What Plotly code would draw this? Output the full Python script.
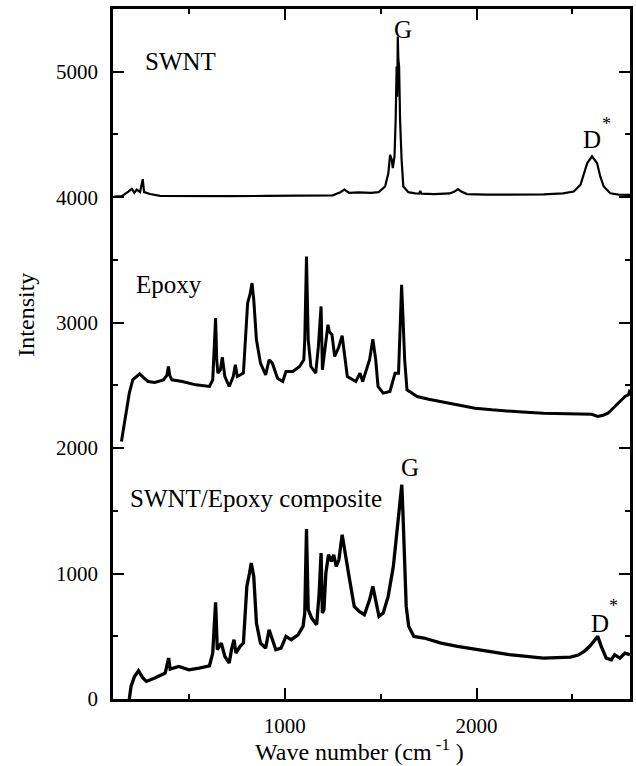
import plotly.graph_objects as go

# ---------------- data ----------------
swnt_x = [110, 150, 184, 202, 215, 228, 245, 259, 266, 297, 350, 500, 700, 900, 1100,
          1250, 1290, 1310, 1335, 1385, 1450, 1489, 1523, 1540, 1549, 1558, 1563, 1572,
          1578, 1583, 1586, 1589, 1592, 1596, 1601, 1604, 1609, 1618, 1644, 1680, 1700,
          1706, 1712, 1780, 1860, 1885, 1903, 1920, 1950, 2050, 2200, 2350, 2450, 2507,
          2542, 2559, 2577, 2602, 2628, 2645, 2663, 2697, 2740, 2800]
swnt_y = [4005, 4008, 4045, 4067, 4035, 4060, 4040, 4144, 4040, 4025, 4010, 4008, 4008, 4010, 4012,
          4015, 4040, 4060, 4035, 4038, 4035, 4040, 4085, 4192, 4338, 4298, 4232, 4325,
          4617, 5042, 4800, 5281, 5100, 5042, 4617, 4400, 4298, 4085, 4040, 4030, 4028,
          4050, 4028, 4025, 4030, 4045, 4065, 4045, 4025, 4020, 4020, 4022, 4030, 4045,
          4099, 4192, 4272, 4325, 4272, 4165, 4085, 4031, 4020, 4018]

epoxy_x = [148, 171, 189, 207, 243, 265, 287, 322, 367, 385, 393, 400, 411, 465, 536, 607, 624,
           639, 645, 651, 664, 674, 687, 710, 731, 742, 752, 784, 806, 820, 829, 838, 852,
           873, 900, 918, 935, 962, 989, 1006, 1042, 1077, 1099, 1104, 1113, 1122, 1136,
           1161, 1175, 1189, 1196, 1211, 1225, 1232, 1246, 1260, 1280, 1299, 1314, 1326,
           1370, 1392, 1406, 1442, 1459, 1474, 1486, 1513, 1548, 1575, 1593, 1601, 1609,
           1616, 1625, 1637, 1690, 1750, 1815, 1900, 1992, 2080, 2170, 2260, 2348, 2440,
           2525, 2600, 2632, 2660, 2685, 2720, 2756, 2774, 2792, 2800]
epoxy_y = [2053, 2279, 2438, 2544, 2592, 2560, 2531, 2523, 2544, 2580, 2650, 2580, 2544, 2531,
           2504, 2491, 2544, 3036, 2700, 2597, 2624, 2725, 2571, 2491, 2571, 2664, 2571, 2597,
           3155, 3235, 3315, 3182, 2863, 2677, 2584, 2704, 2677, 2557, 2531, 2611, 2611,
           2650, 2704, 2863, 3527, 2863, 2650, 2597, 2810, 3129, 2624, 2810, 2983, 2929,
           2903, 2730, 2800, 2895, 2730, 2571, 2531, 2597, 2531, 2704, 2868, 2704, 2491,
           2438, 2451, 2597, 2597, 3049, 3301, 3049, 2704, 2464, 2411, 2390, 2371, 2345,
           2318, 2305, 2292, 2285, 2278, 2275, 2278, 2270, 2252, 2262, 2278, 2332, 2385,
           2412, 2425, 2465]

comp_x = [189, 198, 216, 237, 260, 278, 322, 376, 394, 402, 447, 500, 553, 607, 624, 639,
          648, 669, 687, 710, 722, 735, 745, 767, 784, 802, 816, 825, 838, 852, 873, 900,
          918, 930, 953, 980, 1006, 1033, 1069, 1095, 1104, 1113, 1122, 1140, 1166, 1179,
          1189, 1196, 1204, 1214, 1228, 1243, 1255, 1268, 1282, 1299, 1314, 1335, 1362,
          1388, 1415, 1442, 1459, 1474, 1491, 1513, 1539, 1566, 1584, 1593, 1601, 1610,
          1616, 1625, 1633, 1646, 1673, 1726, 1815, 1900, 1992, 2080, 2170, 2260, 2348,
          2420, 2490, 2530, 2561, 2590, 2605, 2632, 2650, 2676, 2703, 2720, 2747, 2774, 2800]
comp_y = [0, 100, 180, 225, 167, 140, 167, 207, 326, 239, 260, 233, 247, 265, 366, 770,
          393, 446, 340, 287, 393, 473, 366, 420, 446, 898, 1004, 1084, 977, 605, 446, 406,
          552, 499, 393, 406, 499, 473, 512, 579, 685, 1355, 712, 645, 592, 844,
          1163, 685, 712, 1004, 1150, 1097, 1150, 1057, 1110, 1310, 1163, 977, 738,
          698, 672, 791, 898, 791, 659, 685, 818, 1057, 1349, 1482, 1588, 1708,
          1482, 1057, 738, 579, 499, 486, 446, 420, 398, 375, 353, 340, 326,
          330, 334, 350, 380, 420, 446, 499, 420, 326, 313, 353, 326, 366, 353]

x_range = [104, 2800]
y_range = [0, 5500]

FONT = "'Liberation Serif', 'Times New Roman', Times, serif"

fig = go.Figure()
fig.add_trace(go.Scatter(x=swnt_x, y=swnt_y, mode="lines",
                         line=dict(color="black", width=2.2), showlegend=False))
fig.add_trace(go.Scatter(x=epoxy_x, y=epoxy_y, mode="lines",
                         line=dict(color="black", width=3), showlegend=False))
fig.add_trace(go.Scatter(x=comp_x, y=comp_y, mode="lines",
                         line=dict(color="black", width=3.3), showlegend=False))

axis_common = dict(showgrid=False, zeroline=False, showline=True, linecolor="black",
                   linewidth=2.5, mirror="ticks", ticks="inside", ticklen=11,
                   tickwidth=2, tickcolor="black",
                   tickfont=dict(family=FONT, size=21, color="black"))

fig.update_xaxes(range=x_range, tick0=0, dtick=1000,
                 minor=dict(ticks="inside", ticklen=5, tickwidth=2, tickcolor="black",
                            tick0=0, dtick=500),
                 ticklabelstandoff=6, **axis_common)
fig.update_yaxes(range=y_range, tick0=0, dtick=1000,
                 minor=dict(ticks="inside", ticklen=5, tickwidth=2, tickcolor="black",
                            tick0=0, dtick=500),
                 ticklabelstandoff=8, **axis_common)

txt = dict(family=FONT, size=25, color="black")
annos = [
    dict(x=261, y=5079, text="SWNT", xanchor="left", yanchor="middle"),
    dict(x=216, y=3302, text="Epoxy", xanchor="left", yanchor="middle"),
    dict(x=180, y=1596, text="SWNT/Epoxy composite", xanchor="left", yanchor="middle"),
    dict(x=1618, y=5334, text="G", xanchor="center", yanchor="middle"),
    dict(x=2602, y=4457, text="D", xanchor="center", yanchor="middle"),
    dict(x=1654, y=1847, text="G", xanchor="center", yanchor="middle"),
    dict(x=2643, y=600, text="D", xanchor="center", yanchor="middle"),
]
for a in annos:
    fig.add_annotation(xref="x", yref="y", showarrow=False, font=txt, **a)
# asterisks
for (ax, ay) in [(2680, 4580), (2712, 740)]:
    fig.add_annotation(xref="x", yref="y", x=ax, y=ay, text="*", showarrow=False,
                       font=dict(family=FONT, size=18, color="black"),
                       xanchor="center", yanchor="middle")

# axis titles
fig.add_annotation(xref="paper", yref="paper", x=-0.169, y=0.5565, text="Intensity",
                   textangle=-90, showarrow=False, xanchor="center", yanchor="middle",
                   font=dict(family=FONT, size=24, color="black"))
fig.add_annotation(xref="paper", yref="paper", x=0.477, y=-0.074,
                   text="Wave number (cm<sup> -1</sup> )", showarrow=False,
                   xanchor="center", yanchor="middle",
                   font=dict(family=FONT, size=24, color="black"))

fig.update_layout(width=636, height=766, margin=dict(l=113, r=3, t=9, b=67),
                  plot_bgcolor="white", paper_bgcolor="white")

fig.write_html("out.html")
